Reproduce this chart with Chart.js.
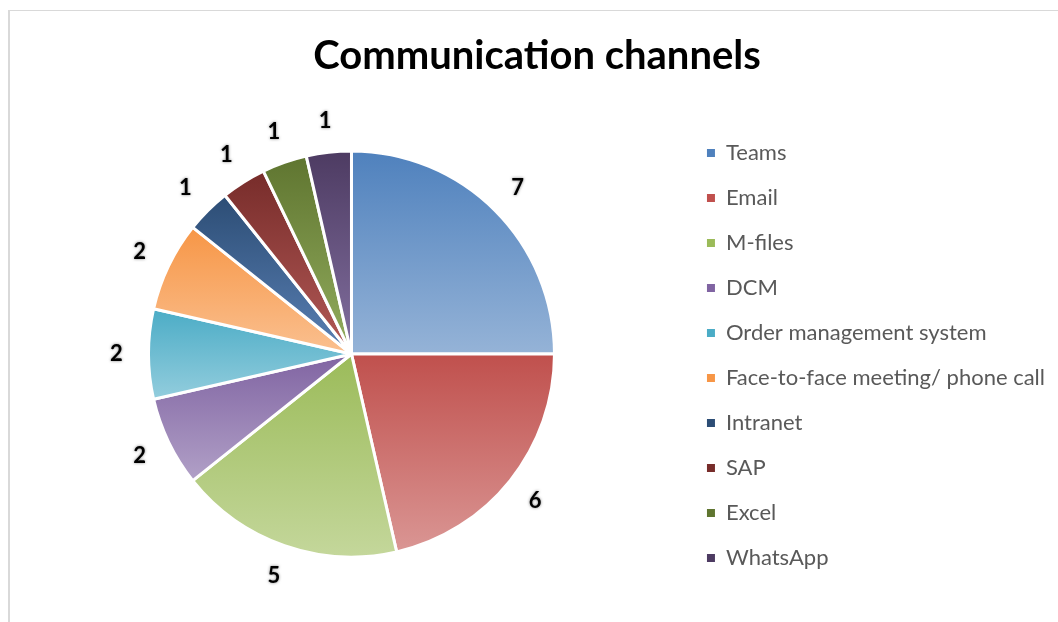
<!DOCTYPE html>
<html>
<head>
<meta charset="utf-8">
<script src="https://cdn.jsdelivr.net/npm/chart.js@4"></script>
<style>
  html, body { margin: 0; padding: 0; background: #fff; }
  #wrap { position: relative; width: 1058px; height: 622px; overflow: hidden; }
  #frame { position: absolute; left: 8px; top: 10px; width: 1100px; height: 700px;
           border-top: 1px solid #d9d9d9; border-left: 2px solid #d9d9d9; }
  canvas { position: absolute; left: 0; top: 0; }
</style>
</head>
<body>
<div id="wrap">
  <div id="frame"></div>
  <canvas id="c" width="1058" height="622"></canvas>
</div>
<script>
// Communication channels — pie with per-slice vertical gradients, labels outside
const channels = ['Teams', 'Email', 'M-files', 'DCM', 'Order management system',
  'Face-to-face meeting/ phone call', 'Intranet', 'SAP', 'Excel', 'WhatsApp'];
const counts = [7, 6, 5, 2, 2, 2, 1, 1, 1, 1];
const topColors = ['#4f81bd', '#c0504d', '#9bbb59', '#8064a2', '#4bacc6',
  '#f79646', '#2c4d75', '#772c2a', '#5f7530', '#4d3b62'];
const bottomColors = ['#95b3d7', '#da9694', '#c4d79b', '#b1a0c7', '#93cddd',
  '#fac090', '#5a80b4', '#b35a57', '#93ad5e', '#8370a0'];

const FONT = 'Lato, "Open Sans", sans-serif';

// gradient from the slice's own top to its bottom, like the Excel style
const sliceGradient = {
  id: 'sliceGradient',
  beforeDatasetsDraw(chart) {
    const ctx = chart.ctx;
    chart.getDatasetMeta(0).data.forEach((el, i) => {
      const p = el.getProps(['x', 'y', 'startAngle', 'endAngle', 'outerRadius'], true);
      const ys = [p.y, p.y + Math.sin(p.startAngle) * p.outerRadius, p.y + Math.sin(p.endAngle) * p.outerRadius];
      for (const a of [-Math.PI / 2, Math.PI / 2, 3 * Math.PI / 2]) {
        if (a >= p.startAngle && a <= p.endAngle) ys.push(p.y + Math.sin(a) * p.outerRadius);
      }
      const y0 = Math.min(...ys), y1 = Math.max(...ys);
      const g = ctx.createLinearGradient(0, y0, 0, y1 + 0.01);
      g.addColorStop(0, topColors[i]);
      g.addColorStop(1, bottomColors[i]);
      el.options = Object.assign({}, el.options, { backgroundColor: g });
    });
  }
};

const outsideLabels = {
  id: 'outsideLabels',
  afterDatasetsDraw(chart) {
    const ctx = chart.ctx;
    ctx.save();
    ctx.font = 'bold 22px ' + FONT;
    ctx.textAlign = 'center';
    ctx.textBaseline = 'middle';
    chart.getDatasetMeta(0).data.forEach((el, i) => {
      const p = el.getProps(['x', 'y', 'startAngle', 'endAngle', 'outerRadius'], true);
      const mid = (p.startAngle + p.endAngle) / 2;
      const r = p.outerRadius + 32;
      const x = p.x + Math.cos(mid) * r, y = p.y + Math.sin(mid) * r;
      ctx.shadowColor = 'rgba(0,0,0,0.5)';
      ctx.shadowBlur = 3;
      ctx.fillStyle = '#000';
      ctx.fillText(String(counts[i]), x, y);
    });
    ctx.restore();
  }
};

new Chart(document.getElementById('c'), {
  type: 'pie',
  data: {
    labels: channels,
    datasets: [{
      data: counts,
      backgroundColor: topColors,
      borderColor: '#ffffff',
      borderWidth: 3,
      radius: 203
    }]
  },
  options: {
    responsive: false,
    animation: false,
    layout: { padding: { left: 19, right: 3, top: 0, bottom: 0 } },
    plugins: {
      title: {
        display: true,
        text: 'Communication channels',
        color: '#000',
        font: { family: FONT, size: 40, weight: 'bold' },
        padding: { top: 32, bottom: 6 }
      },
      legend: {
        position: 'right',
        title: {
          display: true,
          text: ' ',
          font: { family: FONT, size: 10 },
          padding: { top: 77, bottom: 0 }
        },
        labels: {
          boxWidth: 8,
          boxHeight: 8,
          padding: 23,
          color: '#595959',
          font: { family: FONT, size: 22 },
          generateLabels(chart) {
            const items = Chart.overrides.pie.plugins.legend.labels.generateLabels(chart);
            return items.map((it, i) => Object.assign(it, { lineWidth: 0, strokeStyle: 'rgba(0,0,0,0)', fillStyle: topColors[i] }));
          }
        }
      },
      tooltip: { enabled: false }
    }
  },
  plugins: [sliceGradient, outsideLabels]
});
</script>
</body>
</html>
